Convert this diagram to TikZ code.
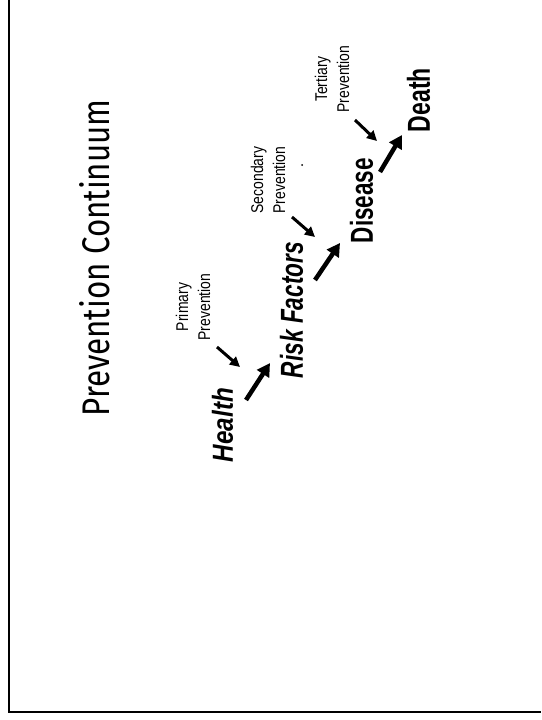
\documentclass[tikz,border=0pt]{standalone}
\usepackage{fontspec}
\setmainfont{Liberation Sans}
\newfontfamily\titlefont{Fira Sans}
\usetikzlibrary{arrows.meta}
\tikzset{
  bigarrow/.style={line width=4.5pt,-{Triangle[length=13pt,width=14pt]}},
  smallarrow/.style={line width=3pt,-{Triangle[length=10pt,width=10pt]}},
  stage/.style={rotate=90,anchor=center,inner sep=0pt,font=\bfseries},
  lab/.style={rotate=90,anchor=center,inner sep=0pt,align=center,font=\fontsize{17}{22}\selectfont},
  frame/.style={line width=2pt}
}
\begin{document}
\begin{tikzpicture}[x=1pt,y=-1pt]
\useasboundingbox (0,0) rectangle (541,720);
\draw[frame] (8.5,0) -- (8.5,711.5) -- (541,711.5);
% title
\node[rotate=90,anchor=center,inner sep=0pt] (title) at (95,258) {\titlefont\resizebox{317pt}{30pt}{Prevention Continuum}};
% stages
\node[stage] (health) at (222.5,425) {\resizebox{74pt}{21pt}{\itshape Health}};
\node[stage] (risk) at (291.5,310) {\resizebox{136pt}{23pt}{\itshape Risk Factors}};
\node[stage] (disease) at (361.5,200.5) {\resizebox{85pt}{23pt}{Disease}};
\node[stage] (death) at (418.5,100) {\resizebox{64pt}{23pt}{Death}};
% labels
\node[lab] (primary) at (193,307) {\scalebox{0.82}[1]{Primary}\\\scalebox{0.82}[1]{Prevention}};
\node[lab] (secondary) at (268,180) {\scalebox{0.82}[1]{Secondary}\\\scalebox{0.82}[1]{Prevention}};
\node[lab] (tertiary) at (332,79) {\scalebox{0.82}[1]{Tertiary}\\\scalebox{0.82}[1]{Prevention}};
% arrow end points
\coordinate (b1s) at (246,400); \coordinate (b1e) at (270,363);
\coordinate (b2s) at (315,280); \coordinate (b2e) at (340,243);
\coordinate (b3s) at (380,172); \coordinate (b3e) at (402,135);
\coordinate (s1s) at (217,347); \coordinate (s1e) at (240,367);
\coordinate (s2s) at (292,217); \coordinate (s2e) at (315,237);
\coordinate (s3s) at (355,120); \coordinate (s3e) at (377,141);
\draw[bigarrow] (b1s) -- (b1e);
\draw[bigarrow] (b2s) -- (b2e);
\draw[bigarrow] (b3s) -- (b3e);
\draw[smallarrow] (s1s) -- (s1e);
\draw[smallarrow] (s2s) -- (s2e);
\draw[smallarrow] (s3s) -- (s3e);
\fill (302,165) circle (1pt);
\end{tikzpicture}
\end{document}
